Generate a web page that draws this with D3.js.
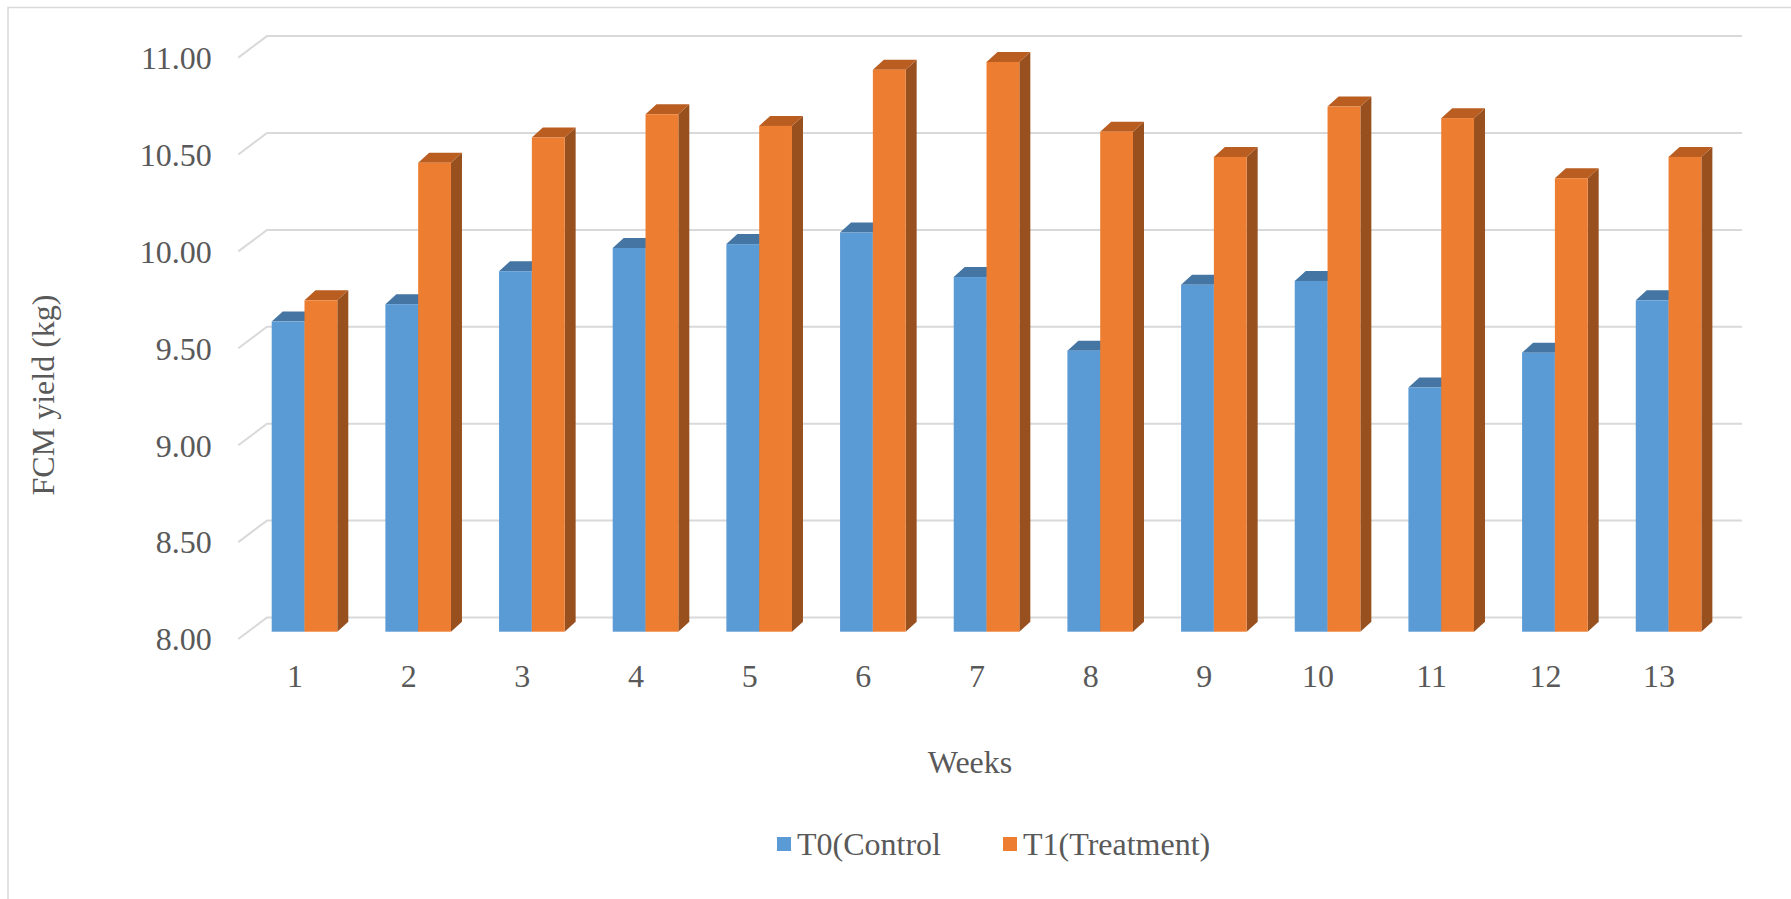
<!DOCTYPE html>
<html>
<head>
<meta charset="utf-8">
<script src="https://cdn.jsdelivr.net/npm/d3@7"></script>
<style>
  html, body { margin: 0; padding: 0; background: #ffffff; }
  svg { display: block; }
  text { font-family: "Liberation Serif", "Times New Roman", serif; fill: #595959; }
</style>
</head>
<body>
<svg id="chart" width="1791" height="899"></svg>
<script>
// Weekly fat-corrected milk yield (kg) per group
const weeks = ["1","2","3","4","5","6","7","8","9","10","11","12","13"];
const seriesNames = ["T0(Control", "T1(Treatment)"];
const controlValues = [9.60, 9.69, 9.86, 9.98, 10.00, 10.06, 9.83, 9.45, 9.79, 9.81, 9.26, 9.44, 9.71];
const treatmentValues = [9.71, 10.42, 10.55, 10.67, 10.61, 10.90, 10.94, 10.58, 10.45, 10.71, 10.65, 10.34, 10.45];
const yTicks = [8.00, 8.50, 9.00, 9.50, 10.00, 10.50, 11.00];

const rows = weeks.map((w, i) => ({ week: w, values: [controlValues[i], treatmentValues[i]] }));

const svg = d3.select("#chart");
const W = 1791, H = 899;
const fontSize = "32px";

// chart area frame
svg.append("rect")
  .attr("x", 8).attr("y", 7.5)
  .attr("width", W).attr("height", H)
  .attr("fill", "#ffffff")
  .attr("stroke", "#d9d9d9").attr("stroke-width", 1.5);

// faces of each column: front, top, right side
const palette = [
  { front: "#5b9bd5", top: "#4475a3", side: "#3d6a94" },
  { front: "#ed7d31", top: "#b95d21", side: "#99501f" }
];

// back wall (gridlines) and column front plane, oblique projection
const wallLeft = 267, wallRight = 1742;
const floorDx = -28.7, floorDy = 21.5;      // floor depth run from wall to front edge
const depthDx = 11, depthDy = -10;          // column depth
const yWall = d3.scaleLinear().domain([8, 11]).range([617.5, 36.1]);
const yFront = d3.scaleLinear().domain([8, 11]).range([631.7, 50.3]);

const x = d3.scaleBand().domain(weeks)
  .range([247.66, 1725.4])
  .paddingInner(0.4229).paddingOuter(0.2115);
const xs = d3.scaleBand().domain([0, 1]).range([0, x.bandwidth()]);

// gridlines on the back wall with the short floor/side stub on the left
const grid = svg.append("g").attr("class", "grid");
grid.selectAll("path").data(yTicks).join("path")
  .attr("d", v => `M${wallLeft + floorDx},${yWall(v) + floorDy} L${wallLeft},${yWall(v)} L${wallRight},${yWall(v)}`)
  .attr("fill", "none")
  .attr("stroke", "#d9d9d9").attr("stroke-width", 2);

// value axis labels
const yAxis = d3.axisLeft(yWall).tickValues(yTicks).tickFormat(d3.format(".2f"))
  .tickSize(0).tickPadding(26.6);
const gy = svg.append("g")
  .attr("transform", `translate(${wallLeft + floorDx},${floorDy})`)
  .call(yAxis);
gy.select(".domain").remove();
gy.selectAll("text")
  .attr("dy", "0.34em")
  .style("font-size", fontSize)
  .style("font-family", "'Liberation Serif', 'Times New Roman', serif")
  .attr("fill", "#595959");

// columns, left to right so each one overlaps the previous side face
const groups = svg.append("g").attr("class", "columns")
  .selectAll("g").data(rows).join("g")
  .attr("transform", d => `translate(${x(d.week)},0)`);

groups.each(function(d) {
  const g = d3.select(this);
  d.values.forEach((v, s) => {
    const x0 = xs(s), w = xs.bandwidth();
    const yt = yFront(v), yb = yFront(8);
    const c = palette[s];
    // right side face
    g.append("path")
      .attr("d", `M${x0 + w},${yt} L${x0 + w + depthDx},${yt + depthDy} L${x0 + w + depthDx},${yb + depthDy} L${x0 + w},${yb} Z`)
      .attr("fill", c.side);
    // top face
    g.append("path")
      .attr("d", `M${x0},${yt} L${x0 + depthDx},${yt + depthDy} L${x0 + w + depthDx},${yt + depthDy} L${x0 + w},${yt} Z`)
      .attr("fill", c.top);
    // front face
    g.append("rect")
      .attr("x", x0).attr("y", yt)
      .attr("width", w).attr("height", yb - yt)
      .attr("fill", c.front);
  });
});

// category axis labels
const xAxis = d3.axisBottom(x).tickSize(0).tickPadding(0);
const gx = svg.append("g")
  .attr("transform", `translate(-9.5,0)`)
  .call(xAxis);
gx.select(".domain").remove();
gx.selectAll("text")
  .attr("y", 676.5).attr("dy", "0.34em")
  .style("font-size", fontSize)
  .style("font-family", "'Liberation Serif', 'Times New Roman', serif")
  .attr("fill", "#595959");

// axis titles
svg.append("text")
  .attr("transform", "translate(43,395) rotate(-90)")
  .attr("text-anchor", "middle").attr("dy", "0.34em")
  .style("font-size", fontSize)
  .text("FCM yield (kg)");

svg.append("text")
  .attr("x", 970).attr("y", 762)
  .attr("text-anchor", "middle").attr("dy", "0.34em")
  .style("font-size", fontSize)
  .text("Weeks");

// legend
const legendX = [777, 1003];
const legend = svg.append("g").attr("class", "legend")
  .selectAll("g").data(seriesNames).join("g")
  .attr("transform", (d, i) => `translate(${legendX[i]},844)`);
legend.append("rect")
  .attr("x", 0).attr("y", -7).attr("width", 14).attr("height", 14)
  .attr("fill", (d, i) => palette[i].front);
legend.append("text")
  .attr("x", 20).attr("dy", "0.34em")
  .style("font-size", fontSize)
  .text(d => d);
</script>
</body>
</html>
